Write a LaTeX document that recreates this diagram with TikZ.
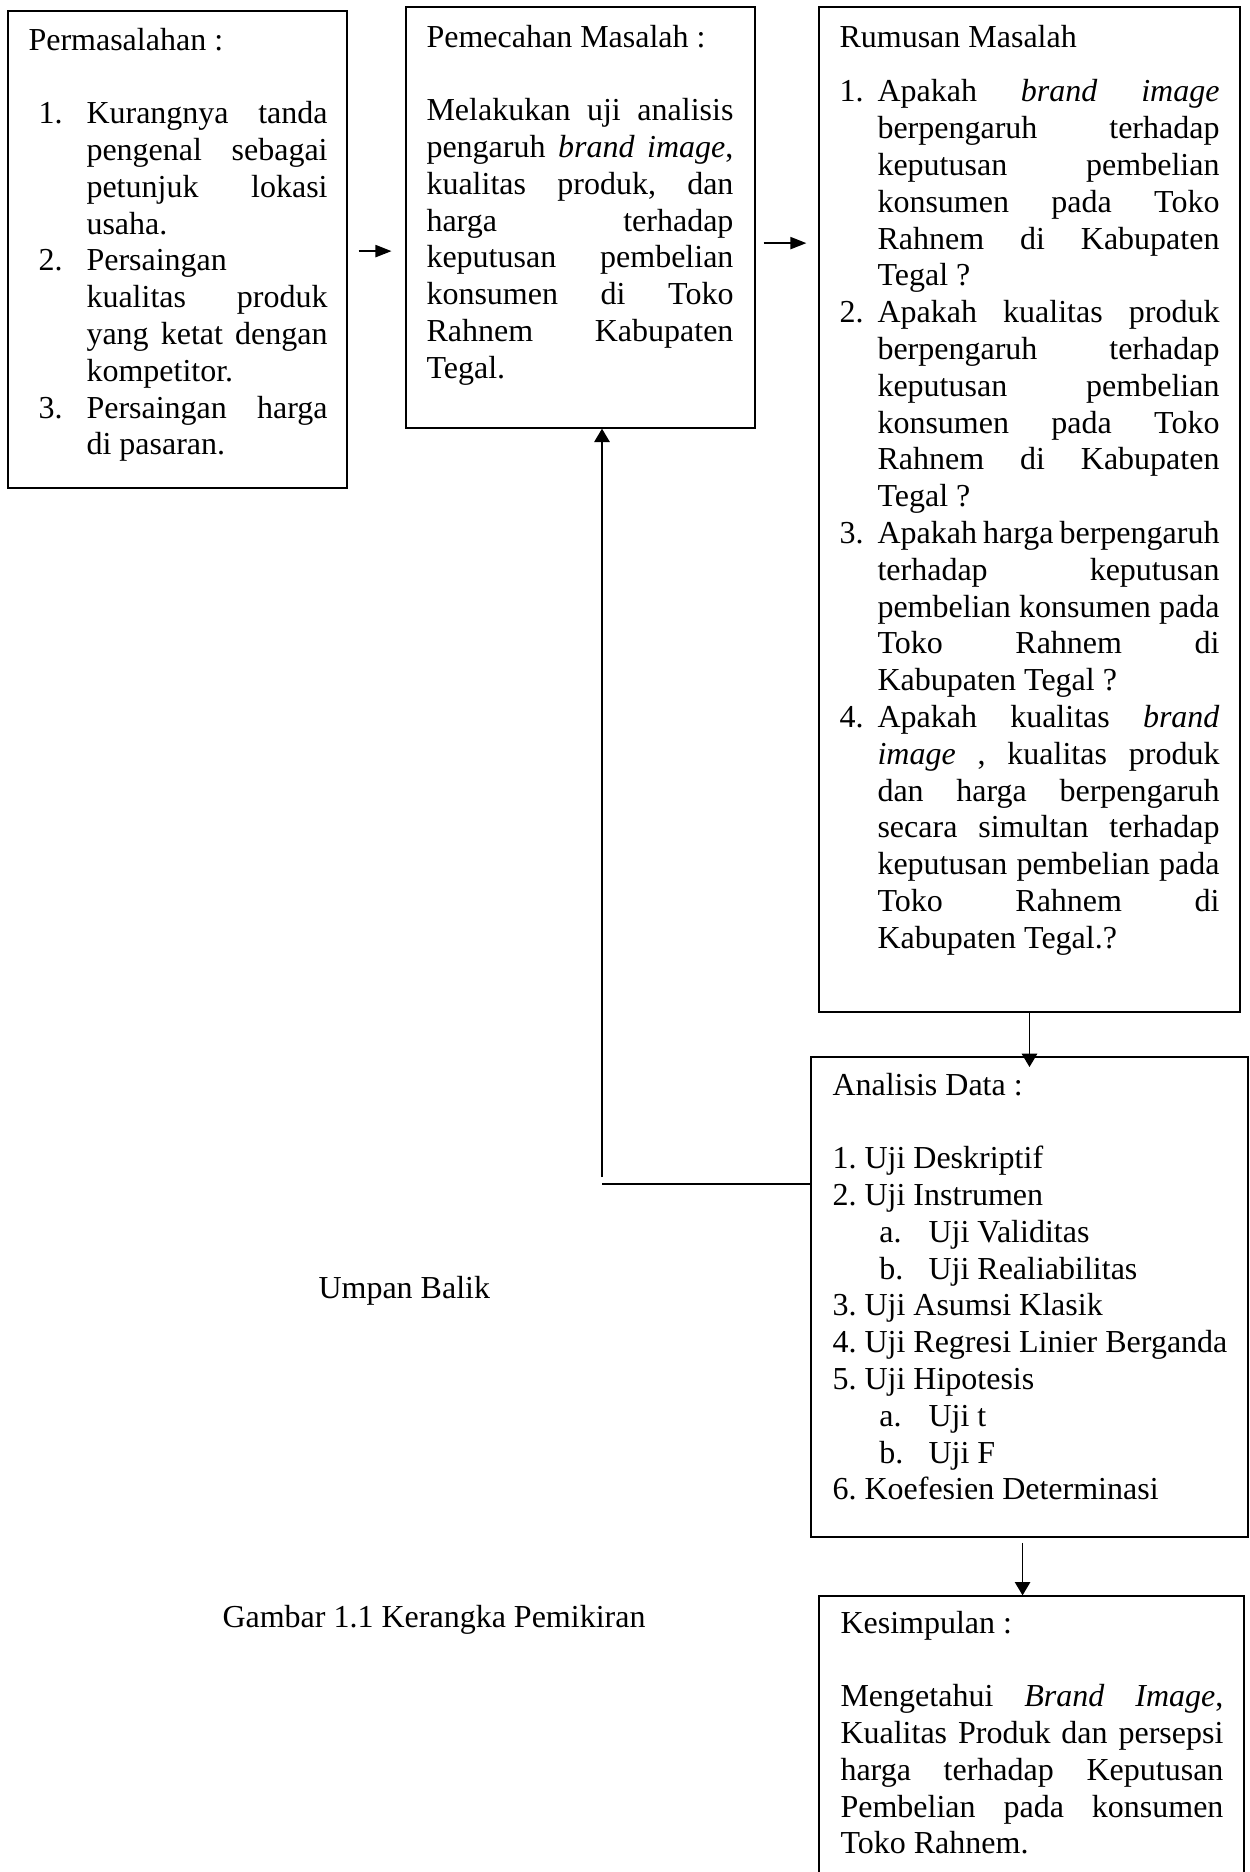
\documentclass[tikz,border=0pt]{standalone}
\usepackage{fontspec}
\setmainfont{Liberation Serif}
\usetikzlibrary{arrows.meta,fit}
\frenchspacing
\newlength\nind \newlength\tind \newlength\tw
\newcommand\ResetSp{\spaceskip=0pt\relax\xspaceskip=0pt\relax\frenchspacing}
\newcommand\LJ[1]{\hspace*{\tind}\makebox[\tw][s]{#1}}
\newcommand\LP[1]{\hspace*{\tind}#1}
\newcommand\NJ[2]{\hspace*{\nind}\makebox[\dimexpr\tind-\nind\relax][l]{#1}\makebox[\tw][s]{#2}}
\newcommand\NP[2]{\hspace*{\nind}\makebox[\dimexpr\tind-\nind\relax][l]{#1}#2}
\newcommand\SubItem[2]{\hspace*{17.6pt}\makebox[18.4pt][l]{#1}#2}
\tikzset{
  box/.style={draw=black, line width=0.5pt, inner sep=0pt},
  txt/.style={inner sep=0pt, anchor=base west, font=\fontsize{12pt}{13.8pt}\selectfont},
  para/.style={txt, align=left},
  conn/.style={draw=black, line width=0.5pt},
  arrH/.style={conn, -{Triangle[length=6pt,width=4.6pt]}},
  arrV/.style={conn, -{Triangle[length=5pt,width=5.8pt]}},
}
\begin{document}
\begin{tikzpicture}[x=0.375pt, y=-0.375pt]
\useasboundingbox (0,0) rectangle (1250,1872);
\fill[white] (0,0) rectangle (1250,1872);

% boxes
\node[box, fit={(8,11) (347,488)}] (b1) {};
\node[box, fit={(406,7) (755,428)}] (b2) {};
\node[box, fit={(819,7) (1240,1012)}] (b3) {};
\node[box, fit={(811,1057) (1248,1537)}] (b4) {};
\node[box, fit={(819,1596) (1244,1900)}] (b5) {};

% texts
\node[para, text width=116pt] (t1) at (28,50) {%
\ResetSp\setlength\nind{3.75pt}\setlength\tind{21.75pt}\setlength\tw{90.4pt}%
Permasalahan :\\[13.8pt]%
\NJ{1.}{Kurangnya tanda}\\
\LJ{pengenal sebagai}\\
\LJ{petunjuk lokasi}\\
\LP{usaha.}\\
\NP{2.}{Persaingan}\\
\LJ{kualitas produk}\\
\LJ{yang ketat dengan}\\
\LP{kompetitor.}\\
\NJ{3.}{Persaingan harga}\\
\LP{di pasaran.}};

\node[para, text width=118pt] (t2) at (426,47) {%
\ResetSp\setlength\tind{0pt}\setlength\tw{115.1pt}%
Pemecahan Masalah :\\[13.8pt]%
\LJ{Melakukan uji analisis}\\
\LJ{pengaruh \textit{brand image},}\\
\LJ{kualitas produk, dan}\\
\LJ{harga terhadap}\\
\LJ{keputusan pembelian}\\
\LJ{konsumen di Toko}\\
\LJ{Rahnem Kabupaten}\\
\LP{Tegal.}};

\node[para, text width=146pt] (t3) at (839,47) {%
\ResetSp\setlength\nind{0pt}\setlength\tind{14.25pt}\setlength\tw{128.25pt}%
Rumusan Masalah\\[6.8pt]%
\NJ{1.}{Apakah \textit{brand} \textit{image}}\\
\LJ{berpengaruh terhadap}\\
\LJ{keputusan pembelian}\\
\LJ{konsumen pada Toko}\\
\LJ{Rahnem di Kabupaten}\\
\LP{Tegal ?}\\
\NJ{2.}{Apakah kualitas produk}\\
\LJ{berpengaruh terhadap}\\
\LJ{keputusan pembelian}\\
\LJ{konsumen pada Toko}\\
\LJ{Rahnem di Kabupaten}\\
\LP{Tegal ?}\\
\NJ{3.}{Apakah harga berpengaruh}\\
\LJ{terhadap keputusan}\\
\LJ{pembelian konsumen pada}\\
\LJ{Toko Rahnem di}\\
\LP{Kabupaten Tegal ?}\\
\NJ{4.}{Apakah kualitas \textit{brand}}\\
\LJ{\textit{image} , kualitas produk}\\
\LJ{dan harga berpengaruh}\\
\LJ{secara simultan terhadap}\\
\LJ{keputusan pembelian pada}\\
\LJ{Toko Rahnem di}\\
\LP{Kabupaten Tegal.?}};

\node[para, text width=160pt] (t4) at (832,1095) {%
\ResetSp
Analisis Data :\\[13.8pt]%
1. Uji Deskriptif\\
2. Uji Instrumen\\
\SubItem{a.}{Uji Validitas}\\
\SubItem{b.}{Uji Realiabilitas}\\
3. Uji Asumsi Klasik\\
4. Uji Regresi Linier Berganda\\
5. Uji Hipotesis\\
\SubItem{a.}{Uji t}\\
\SubItem{b.}{Uji F}\\
6. Koefesien Determinasi};

\node[para, text width=148pt] (t5) at (840,1633) {%
\ResetSp\setlength\tind{0pt}\setlength\tw{143.6pt}%
Kesimpulan :\\[13.8pt]%
\LJ{Mengetahui \textit{Brand} \textit{Image},}\\
\LJ{Kualitas Produk dan persepsi}\\
\LJ{harga terhadap Keputusan}\\
\LJ{Pembelian pada konsumen}\\
\LP{Toko Rahnem.}};

\node[txt] (umpan) at (318,1298) {Umpan Balik};
\node[txt] (gambar) at (222,1627) {Gambar 1.1 Kerangka Pemikiran};

% connectors
\coordinate (a1) at ([yshift=-0.6pt]b1.east);
\draw[arrH, shorten <=4.1pt, shorten >=5.2pt] (a1) -- (a1 -| b2.west);
\coordinate (a2) at ([yshift=-9.6pt]b2.east);
\draw[arrH, shorten <=3pt, shorten >=4.5pt] (a2) -- (a2 -| b3.west);
\draw[arrV, shorten >=-4pt] (b3.south) -- (b4.north);
\coordinate (a4) at ([xshift=-2.6pt]b4.south);
\draw[arrV, shorten <=1.9pt] (a4) -- (a4 |- b5.north);
\coordinate (fb) at (602,1184);
\draw[conn] (fb -| b4.west) -- (fb);
\draw[arrV, shorten <=2.6pt] (fb) -- (fb |- b2.south);
\end{tikzpicture}
\end{document}
